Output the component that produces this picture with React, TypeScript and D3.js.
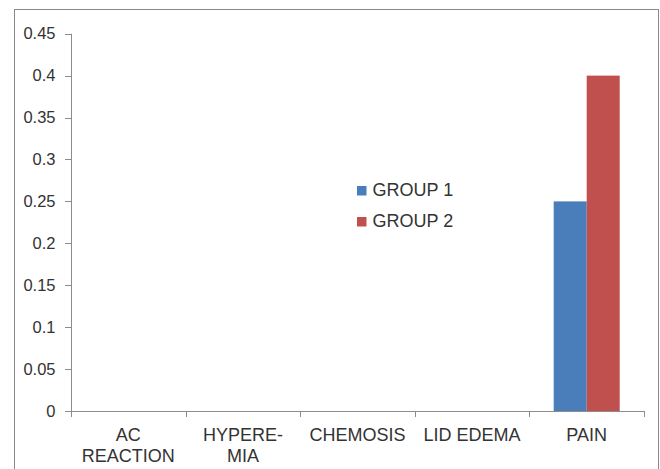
import React from "react";
import * as d3 from "d3";

const categories: string[][] = [["AC", "REACTION"], ["HYPERE-", "MIA"], ["CHEMOSIS"], ["LID EDEMA"], ["PAIN"]];
const seriesNames = ["GROUP 1", "GROUP 2"];
const group1 = [0, 0, 0, 0, 0.25];
const group2 = [0, 0, 0, 0, 0.4];
const yTicks = [0, 0.05, 0.1, 0.15, 0.2, 0.25, 0.3, 0.35, 0.4, 0.45];
const colors = ["#4a7ebb", "#c0504d"];

const W = 660;
const H = 469;
const margin = { left: 71, right: 16, top: 33.7, bottom: 58 };
const font = "'Liberation Sans', Arial, sans-serif";
const axisColor = "#8c8c8c";
const textColor = "#333333";

export default function App() {
  const catKeys = categories.map((c) => c.join(" "));
  const x0 = d3.scaleBand<string>().domain(catKeys).range([margin.left, 644]).paddingInner(0).paddingOuter(0);
  const x1 = d3.scaleBand<string>().domain(seriesNames).range([0, x0.bandwidth()]).paddingInner(0).paddingOuter(0.736);
  const y = d3.scaleLinear().domain([0, 0.45]).range([411, margin.top]);
  const series = [group1, group2];
  const edges = [...catKeys.map((k) => x0(k) as number), 644];

  return (
    <svg width={W} height={H} style={{ position: "absolute", left: 0, top: 0, background: "#fff" }} fontFamily={font}>
      <rect x={14.5} y={9.5} width={644} height={470} fill="#fff" stroke="#8a8a8a" strokeWidth={1} />
      {/* bars */}
      {series.map((vals, si) =>
        vals.map((v, ci) => (
          <rect
            key={`${si}-${ci}`}
            x={(x0(catKeys[ci]) as number) + (x1(seriesNames[si]) as number)}
            y={y(v)}
            width={x1.bandwidth()}
            height={y(0) - y(v)}
            fill={colors[si]}
          />
        ))
      )}
      {/* y axis */}
      <line x1={margin.left + 0.5} x2={margin.left + 0.5} y1={y(0.45)} y2={y(0)} stroke={axisColor} />
      {yTicks.map((t) => (
        <g key={t}>
          <line x1={65} x2={margin.left} y1={Math.round(y(t)) + 0.5} y2={Math.round(y(t)) + 0.5} stroke={axisColor} />
          <text x={55.5} y={y(t)} dy="0.35em" textAnchor="end" fontSize={16.5} fill={textColor}>
            {d3.format("")(t)}
          </text>
        </g>
      ))}
      {/* x axis */}
      <line x1={margin.left} x2={644} y1={y(0) + 0.5} y2={y(0) + 0.5} stroke={axisColor} />
      {edges.map((e, i) => (
        <line key={i} x1={Math.round(e) + 0.5} x2={Math.round(e) + 0.5} y1={y(0)} y2={y(0) + 6} stroke={axisColor} />
      ))}
      {categories.map((lines, ci) => {
        const cx = (x0(catKeys[ci]) as number) + x0.bandwidth() / 2;
        return (
          <text key={ci} x={cx} y={441} textAnchor="middle" fontSize={18} fill={textColor}>
            {lines.map((l, li) => (
              <tspan key={li} x={cx} y={441 + li * 20.5}>
                {l}
              </tspan>
            ))}
          </text>
        );
      })}
      {/* legend */}
      {seriesNames.map((s, i) => (
        <g key={s} transform={`translate(357, ${186 + i * 31})`}>
          <rect x={0} y={0} width={9.5} height={9.5} fill={colors[i]} />
          <text x={15.5} y={10} fontSize={18} fill={textColor}>
            {s}
          </text>
        </g>
      ))}
    </svg>
  );
}
